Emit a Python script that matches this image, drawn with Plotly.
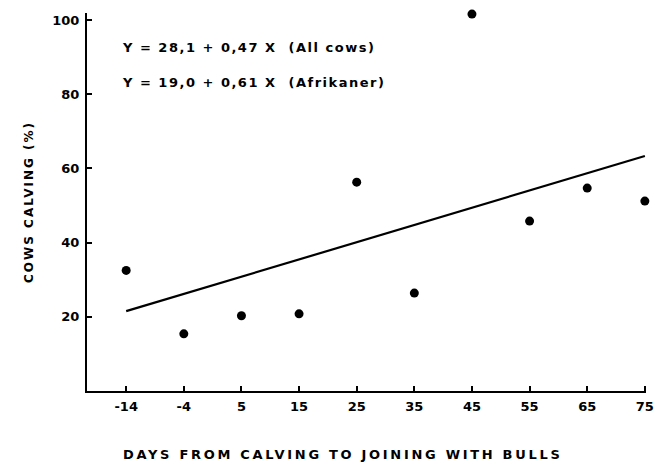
import plotly.graph_objects as go

days = ["-14", "-4", "5", "15", "25", "35", "45", "55", "65", "75"]
calving = [32.5, 15.4, 20.3, 20.8, 56.3, 26.4, 101.6, 45.8, 54.7, 51.2]

# Regression line (All cows): Y = 28.1 + 0.47 X, drawn between X = -14 and X = 75
line_x_labels = ["-14", "75"]
line_x_values = [-14, 75]
intercept, slope = 28.1, 0.47
line_y = [intercept + slope * v for v in line_x_values]

eq_texts = ["Y = 28,1 + 0,47 X  (All cows)", "Y = 19,0 + 0,61 X  (Afrikaner)"]
y_ticks = [20, 40, 60, 80, 100]
x_title = "DAYS FROM CALVING TO JOINING WITH BULLS"
y_title = "COWS CALVING (%)"

FONT = "DejaVu Sans"


def spaced(t, px):
    return f'<span style="letter-spacing:{px}px">{t}</span>'


fig = go.Figure()
fig.add_trace(go.Scatter(
    x=line_x_labels, y=line_y, mode="lines",
    line=dict(color="black", width=2.2), hoverinfo="skip", showlegend=False,
))
fig.add_trace(go.Scatter(
    x=days, y=calving, mode="markers",
    marker=dict(color="black", size=9), cliponaxis=False, showlegend=False,
))

ann_y = [0.91, 0.815]
for t, yy in zip(eq_texts, ann_y):
    fig.add_annotation(
        text=spaced(t, 1.5), xref="paper", yref="paper", x=0.059, y=yy,
        xanchor="left", yanchor="middle", showarrow=False,
        font=dict(family=FONT, size=13, color="black", weight="bold"),
    )

# x-axis title (sits slightly left of the axis centre in the original)
fig.add_annotation(
    text=spaced(x_title, 2.7), xref="paper", yref="paper", x=0.458, y=-0.167,
    xanchor="center", yanchor="middle", showarrow=False,
    font=dict(family=FONT, size=13, color="black", weight="bold"),
)

fig.update_layout(
    width=662, height=464,
    margin=dict(l=79, r=24, t=5, b=81),
    paper_bgcolor="white", plot_bgcolor="white",
    font=dict(family=FONT, color="black"),
)
fig.update_xaxes(
    type="category", categoryorder="array", categoryarray=days,
    range=[-0.68, 9.02], automargin=False,
    showgrid=False, zeroline=False,
    showline=True, linecolor="black", linewidth=2,
    ticks="inside", ticklen=5, tickwidth=1.5, tickcolor="black",
    ticklabelstandoff=2,
    tickfont=dict(family=FONT, size=13, color="black", weight="bold"),
)
fig.update_yaxes(
    range=[0, 101.9], tickvals=y_ticks, automargin=False,
    showgrid=False, zeroline=False,
    showline=True, linecolor="black", linewidth=2,
    ticks="inside", ticklen=5, tickwidth=1.5, tickcolor="black",
    ticklabelstandoff=3,
    tickfont=dict(family=FONT, size=13, color="black", weight="bold"),
    title=dict(text=spaced(y_title, 2),
               font=dict(family=FONT, size=12, color="black", weight="bold"),
               standoff=16),
)

fig.write_html("out.html")
